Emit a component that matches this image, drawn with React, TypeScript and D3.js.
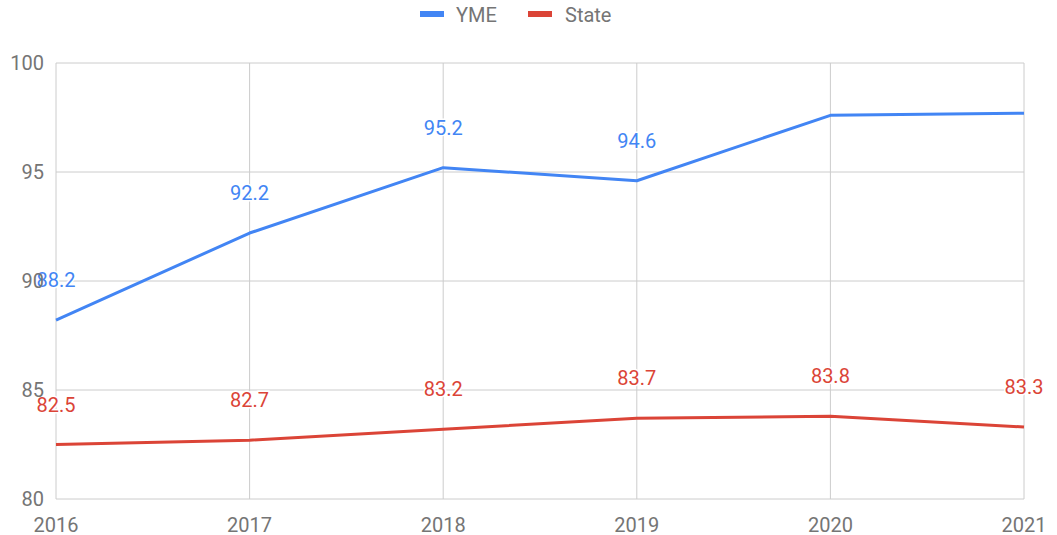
import React from "react";
import * as d3 from "d3";

const years = ["2016", "2017", "2018", "2019", "2020", "2021"];
const ymeValues = [88.2, 92.2, 95.2, 94.6, 97.6, 97.7];
const stateValues = [82.5, 82.7, 83.2, 83.7, 83.8, 83.3];
const ymeLabelShown = [true, true, true, true, false, false];
const stateLabelShown = [true, true, true, true, true, true];
const yTicks = [80, 85, 90, 95, 100];

const W = 1057;
const H = 535;
const M = { left: 56, right: 1024, top: 63, bottom: 499 };
const FONT = "Roboto, 'Noto Sans', Arial, sans-serif";
const BLUE = "#4285F4";
const RED = "#DB4437";
const AXIS_TEXT = "#757575";
const FS = 20;

export default function App() {
  const x = d3.scalePoint<string>().domain(years).range([M.left, M.right]);
  const y = d3.scaleLinear().domain([80, 100]).range([M.bottom, M.top]);
  const line = d3
    .line<number>()
    .x((_, i) => x(years[i]) as number)
    .y((d) => y(d));

  const series = [
    { name: "YME", values: ymeValues, color: BLUE, shown: ymeLabelShown },
    { name: "State", values: stateValues, color: RED, shown: stateLabelShown },
  ];

  return (
    <svg
      width={W}
      height={H}
      style={{ position: "absolute", left: 0, top: 0, background: "#fff" }}
      fontFamily={FONT}
    >
      <rect x={0} y={0} width={W} height={H} fill="#fff" />
      {/* gridlines */}
      {yTicks.map((t) => (
        <line key={"h" + t} x1={M.left} x2={M.right} y1={y(t)} y2={y(t)} stroke="#cccccc" strokeWidth={1} />
      ))}
      {years.map((yr) => (
        <line key={"v" + yr} x1={x(yr)} x2={x(yr)} y1={M.top} y2={M.bottom} stroke="#cccccc" strokeWidth={1} />
      ))}
      {/* lines */}
      {series.map((s) => (
        <path key={s.name} d={line(s.values) || ""} fill="none" stroke={s.color} strokeWidth={3} strokeLinejoin="round" />
      ))}
      {/* data labels */}
      {series.map((s) =>
        s.values.map((v, i) =>
          s.shown[i] ? (
            <text
              key={s.name + i}
              x={x(years[i])}
              y={y(v) - 40}
              textAnchor="middle"
              dominantBaseline="central"
              fontSize={FS}
              fill={s.color}
              stroke="#fff"
              strokeWidth={3}
              paintOrder="stroke"
            >
              {v.toFixed(1)}
            </text>
          ) : null
        )
      )}
      {/* y axis labels */}
      {yTicks.map((t) => (
        <text key={"yl" + t} x={44} y={y(t)} textAnchor="end" dominantBaseline="central" fontSize={FS} fill={AXIS_TEXT}>
          {t}
        </text>
      ))}
      {/* x axis labels */}
      {years.map((yr) => (
        <text key={"xl" + yr} x={x(yr)} y={525} textAnchor="middle" dominantBaseline="central" fontSize={FS} fill={AXIS_TEXT}>
          {yr}
        </text>
      ))}
      {/* legend */}
      <g>
        <rect x={420} y={11} width={24} height={6} fill={BLUE} />
        <text x={456} y={15} dominantBaseline="central" fontSize={FS} fill={AXIS_TEXT}>YME</text>
        <rect x={528} y={11} width={24} height={6} fill={RED} />
        <text x={565} y={15} dominantBaseline="central" fontSize={FS} fill={AXIS_TEXT}>State</text>
      </g>
    </svg>
  );
}
